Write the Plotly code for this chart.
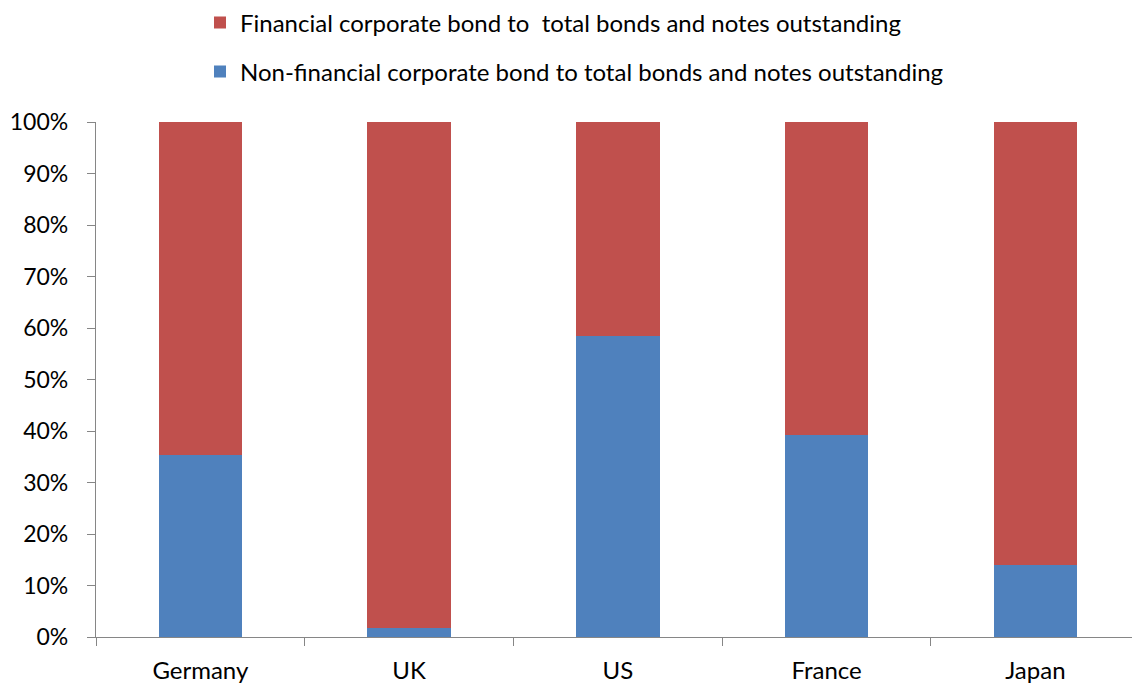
import plotly.graph_objects as go

countries = ["Germany", "UK", "US", "France", "Japan"]
non_financial = [35.3, 1.8, 58.4, 39.3, 14.0]
financial = [round(100 - v, 1) for v in non_financial]
y_ticks = [0, 10, 20, 30, 40, 50, 60, 70, 80, 90, 100]
y_tick_labels = [f"{t}%" for t in y_ticks]

RED = "#C0504D"
BLUE = "#4F81BD"
AXIS = "#868686"
FONT = "Lato, 'Open Sans', sans-serif"

W, H = 1132, 685
L, R, T, B = 96, 0, 122, 48
plot_w, plot_h = W - L - R, H - T - B


def px_to_paper(x_px, y_px):
    return (x_px - L) / plot_w, (H - B - y_px) / plot_h


fig = go.Figure()
fig.add_trace(go.Bar(
    x=countries, y=non_financial, marker_color=BLUE, marker_line_width=0,
    name="Non-financial corporate bond to total bonds and notes outstanding",
    legend="legend2", showlegend=True,
))
fig.add_trace(go.Bar(
    x=countries, y=financial, marker_color=RED, marker_line_width=0,
    name="Financial corporate bond to  total bonds and notes outstanding",
    legend="legend", showlegend=True,
))

lx1, ly1 = px_to_paper(200, 23)
lx2, ly2 = px_to_paper(200, 72)

fig.update_layout(
    width=W, height=H,
    margin=dict(l=L, r=R, t=T, b=B, autoexpand=False),
    paper_bgcolor="white", plot_bgcolor="white",
    showlegend=True,
    barmode="stack", bargap=0.6,
    font=dict(family=FONT, size=24, color="#000000"),
    legend=dict(x=lx1, xanchor="left", y=ly1, yanchor="middle",
                font=dict(size=24), bgcolor="rgba(0,0,0,0)",
                itemwidth=30),
    legend2=dict(x=lx2, xanchor="left", y=ly2, yanchor="middle",
                 font=dict(size=24), bgcolor="rgba(0,0,0,0)",
                 itemwidth=30),
    xaxis=dict(
        type="category", range=[-0.5, 4.463],
        showline=True, linecolor=AXIS, linewidth=1.3,
        ticks="outside", tickson="boundaries", ticklen=8, tickcolor=AXIS,
        showgrid=False, tickfont=dict(size=24), ticklabelstandoff=12,
        tickangle=0,
    ),
    yaxis=dict(
        range=[0, 100], tickvals=y_ticks, ticktext=y_tick_labels,
        showline=True, linecolor=AXIS, linewidth=1.3,
        ticks="outside", ticklen=8, tickcolor=AXIS,
        showgrid=False, zeroline=False, tickfont=dict(size=23),
        ticklabelstandoff=14,
    ),
)

fig.write_html("out.html")
